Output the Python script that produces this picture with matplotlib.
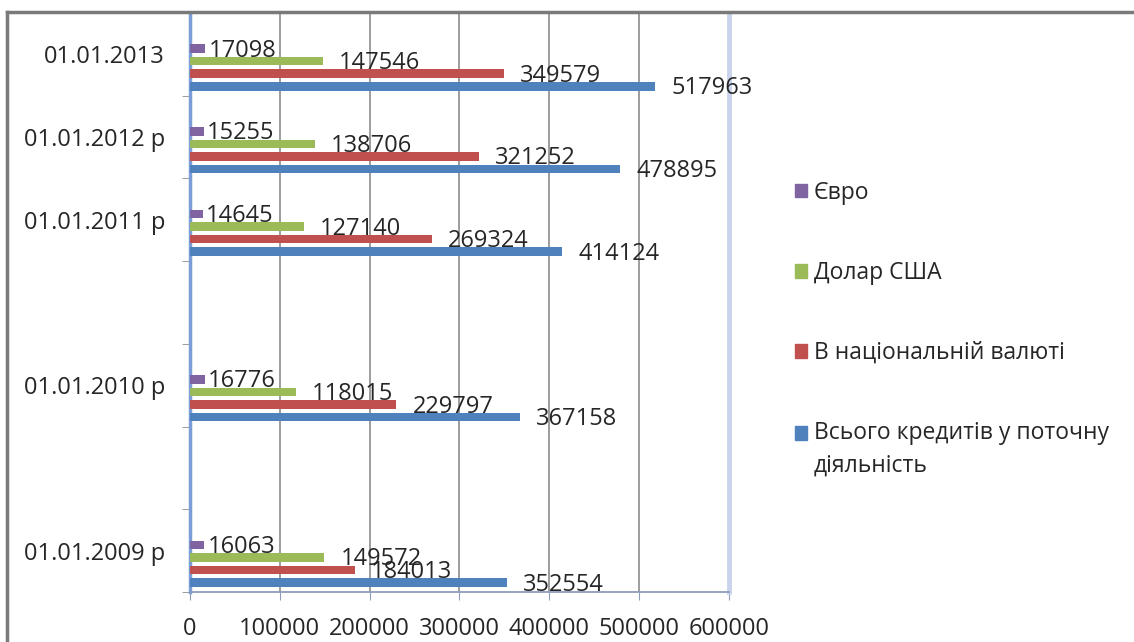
import matplotlib.pyplot as plt
import numpy as np
from matplotlib.patches import Patch
from matplotlib.lines import Line2D
from matplotlib.ticker import StrMethodFormatter

plt.rcParams['font.family'] = ['Open Sans', 'DejaVu Sans']

# dati
dates = ["01.01.2013", "01.01.2012 р", "01.01.2011 р", "01.01.2010 р", "01.01.2009 р"]
slots = np.array([0, 1, 2, 4, 6])  # 7 slots on the category axis, two are empty
euro = [17098, 15255, 14645, 16776, 16063]
usd = [147546, 138706, 127140, 118015, 149572]
uah = [349579, 321252, 269324, 229797, 184013]
total = [517963, 478895, 414124, 367158, 352554]

names = ["Євро", "Долар США", "В національній валюті",
         "Всього кредитів у поточну\nдіяльність"]
colors = ["#8064a2", "#9bbb59", "#c0504d", "#4f81bd"]
series = [euro, usd, uah, total]
offsets = [-0.07, 0.082, 0.234, 0.386]
label_dx = [3, 16, 16, 16]
txt = "#262626"

fig = plt.figure(figsize=(11.34, 6.42), dpi=100)
fig.patch.set_facecolor("white")
ax = fig.add_axes([190/1134, 50/642, (729-190)/1134, (592-13)/642])

for vals, col, off, dx in zip(series, colors, offsets, label_dx):
    ys = slots + off
    ax.barh(ys, vals, height=0.105, color=col, zorder=3)
    for v, y in zip(vals, ys):
        ax.annotate(str(v), (v, y), xytext=(dx, -2), textcoords="offset pixels",
                    ha="left", va="center", fontsize=17, color=txt, zorder=4)

ax.set_xlim(0, 600000)
ax.set_ylim(6.5, -0.5)
ax.set_xticks(np.arange(0, 600001, 100000))
ax.xaxis.set_major_formatter(StrMethodFormatter("{x:.0f}"))
ax.tick_params(axis="x", length=6, color="#8d9dba", labelsize=17, labelcolor=txt, pad=12)
ax.set_yticks(slots)
ax.set_yticklabels(dates)
ax.tick_params(axis="y", which="major", length=0, labelsize=17, labelcolor=txt, pad=18)
ax.set_yticks(np.arange(0.5, 7, 1), minor=True)
ax.tick_params(axis="y", which="minor", length=6, color="#8c8c8c")

ax.xaxis.grid(True, color="#8c8c8c", lw=1.2, zorder=0)
ax.set_axisbelow(True)

ax.spines["top"].set_visible(False)
ax.spines["left"].set_color("#7b9ed6")
ax.spines["left"].set_linewidth(2.5)
ax.spines["right"].set_color("#c9d4ec")
ax.spines["right"].set_linewidth(3.5)
ax.spines["bottom"].set_color("#8d9dba")
ax.spines["bottom"].set_linewidth(1.3)

# рамка
fig.add_artist(Line2D([7/1134, 1], [1 - 12/642] * 2, transform=fig.transFigure,
                      color="#7a7a7a", lw=2.5))
fig.add_artist(Line2D([7/1134] * 2, [0, 1 - 12/642], transform=fig.transFigure,
                      color="#7a7a7a", lw=2.5))

handles = [Patch(color=c) for c in colors]
leg = fig.legend(handles, names, loc="upper left", bbox_to_anchor=(774/1134, 1 - 160/642),
                 frameon=False, fontsize=16.5, handlelength=0.55, handleheight=0.55,
                 handletextpad=0.3, labelspacing=2.45)
for t in leg.get_texts():
    t.set_color(txt)
    t.set_linespacing(1.45)
# marker of the two-line entry sits on its first line
h = leg.legend_handles[3]
h.set_y(h.get_y() + 12)

fig.savefig("out.png", dpi=100)
